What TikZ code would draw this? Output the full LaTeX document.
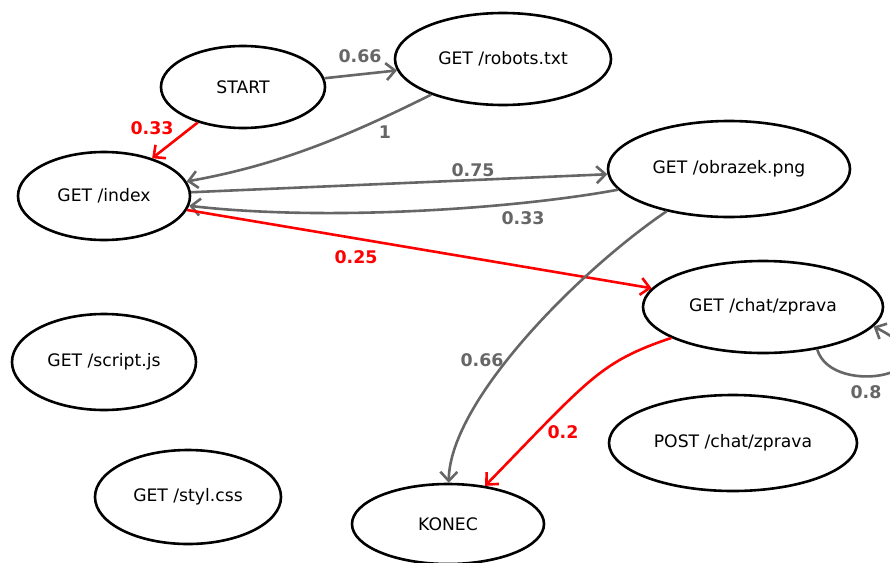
\documentclass[tikz,border=0pt]{standalone}
\usepackage{fontspec}
\setmainfont{DejaVu Sans}
\usetikzlibrary{shapes.geometric,arrows.meta}
\definecolor{edgegray}{RGB}{102,102,102}
\definecolor{edgered}{RGB}{255,0,0}
\tikzset{
  state/.style={draw=black, line width=2.6pt, ellipse, inner sep=0pt,
    font=\fontsize{17.2}{20}\selectfont},
  link/.style={line width=2.6pt, draw=edgegray,
    -{Straight Barb[length=9pt,width=17pt]}},
  hotlink/.style={link, draw=edgered},
  prob/.style={font=\fontsize{17.4}{20}\selectfont\bfseries, text=edgegray, inner sep=0pt},
  hotprob/.style={prob, text=edgered}
}
\begin{document}
\begin{tikzpicture}[x=1pt,y=-1pt]
\useasboundingbox (0,0) rectangle (890,562);

% states
\node[state, minimum width=164pt, minimum height=82pt] (start)  at (243,87)  {START};
\node[state, minimum width=216pt, minimum height=92pt] (robots) at (503,59)  {GET /robots.txt};
\node[state, minimum width=172pt, minimum height=88pt] (index)  at (104,196) {GET /index};
\node[state, minimum width=242pt, minimum height=96pt] (obr)    at (729,169) {GET /obrazek.png};
\node[state, minimum width=240pt, minimum height=92pt] (chat)   at (763,307) {GET /chat/zprava};
\node[state, minimum width=184pt, minimum height=96pt] (script) at (104,362) {GET /script.js};
\node[state, minimum width=248pt, minimum height=96pt] (post)   at (733,443) {POST /chat/zprava};
\node[state, minimum width=186pt, minimum height=94pt] (styl)   at (188,497) {GET /styl.css};
\node[state, minimum width=192pt, minimum height=80pt] (konec)  at (448,524) {KONEC};

% transitions
\draw[link]    (start) -- (robots);
\draw[hotlink] (start) -- (index);
\draw[link]    (robots) .. controls (350,135) and (280,165) .. (index);
\draw[link]    (index) -- (obr);
\draw[link]    (obr) .. controls (520,208) and (330,222) .. (index);
\draw[hotlink] (index) -- (chat);
\draw[link]    (obr) .. controls (580,270) and (450,400) .. (konec);
\draw[hotlink] (chat) .. controls (600,362) and (590,378) .. (konec);
\draw[link]    (chat.-38) .. controls (832,400) and (965,372) .. (chat.-10);

% transition probabilities
\node[prob]    (p1) at (360,56)  {0.66};
\node[hotprob] (p2) at (152,128) {0.33};
\node[prob]    (p3) at (385,132) {1};
\node[prob]    (p4) at (473,170) {0.75};
\node[prob]    (p5) at (523,218) {0.33};
\node[hotprob] (p6) at (356,257) {0.25};
\node[prob]    (p7) at (482,360) {0.66};
\node[hotprob] (p8) at (563,432) {0.2};
\node[prob]    (p9) at (866,392) {0.8};
\end{tikzpicture}
\end{document}
